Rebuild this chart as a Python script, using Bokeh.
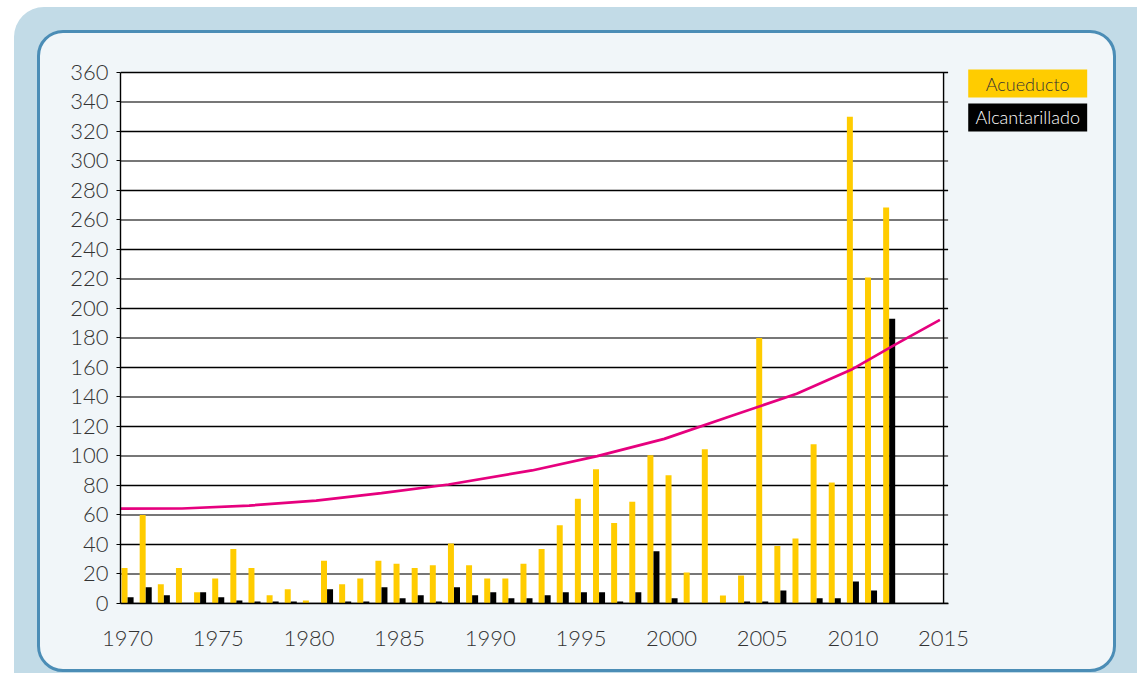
from bokeh.plotting import figure
from bokeh.models import FixedTicker, ColumnDataSource
from bokeh.layouts import column
from bokeh.transform import dodge
from bokeh.core.properties import value
from bokeh.embed import file_html
from bokeh.resources import INLINE

# ---- data ----
years = list(range(1970, 2013))
acueducto = [24, 60, 13, 24, 7.7, 17, 37, 24, 5.6, 9.7,
             2, 29, 13, 17, 29, 27, 24, 26, 40.7, 26,
             17, 17, 27, 37, 53, 71, 91, 54.5, 69, 100.5,
             87, 21, 104.6, 5.4, 19, 180, 39, 44, 108, 82,
             330, 221, 268.5]
alcantarillado = [4.3, 11, 5.6, 0, 7.7, 4.3, 2, 1.4, 1.4, 1.4,
                  0, 9.7, 1.4, 1.4, 11, 3.6, 5.6, 1.4, 11, 5.6,
                  7.7, 3.6, 3.6, 5.6, 7.7, 7.7, 7.7, 1.4, 7.7, 35.5,
                  3.6, 0, 0, 0, 1.4, 1.4, 8.8, 0, 3.6, 3.6,
                  14.9, 8.8, 193]
trend_years = [1969.6, 1973.0, 1976.7, 1980.4, 1984.0, 1987.7, 1992.3,
               1995.9, 1999.6, 2003.2, 2006.9, 2009.9, 2012.4, 2014.8]
trend_vals = [64.3, 64.4, 66.4, 69.8, 74.8, 80.7, 90.2,
              99.9, 111.6, 126.8, 142.2, 158.4, 176.0, 192.3]
x_ticks = [1970, 1975, 1980, 1985, 1990, 1995, 2000, 2005, 2010, 2015]
y_ticks = list(range(0, 361, 20))
grid_gray = list(range(20, 361, 40))
grid_black = list(range(0, 361, 40))
series_names = ["Acueducto", "Alcantarillado"]

# ---- layout constants ----
X0, X1 = 1969.61, 2015.0          # plotting area (data units)
Y0, Y1 = 0, 360
TICK_EXT = 0.25                   # right-hand outer ticks (years)
X_VIEW_END = 2023.82              # frame extends to hold the legend
Y_VIEW_END = 378.3
LEG_X = 2019.64
LEG_Y = [352.5, 329.5]
LEG_W, LEG_H = 6.56, 19.0

YELLOW = "#ffcc00"
BLACK = "#000000"
PINK = "#e6007e"
FONT = "Lato Light"

src = ColumnDataSource(dict(year=years, a=acueducto, b=alcantarillado))

p = figure(width=1079, height=642, x_range=(X0, X_VIEW_END),
           y_range=(Y0, Y_VIEW_END),
           output_backend="svg", toolbar_location=None,
           min_border_left=80, min_border_right=16, min_border_top=12,
           min_border_bottom=72,
           background_fill_color=None, border_fill_color=None,
           outline_line_color=None)
p.styles = {"border": "3px solid #4b8db6", "border-radius": "26px",
            "background-color": "#f1f6f9", "overflow": "hidden"}
p.margin = (23, 0, 0, 23)
p.xgrid.visible = False
p.ygrid.visible = False

# white plotting area
p.quad(left=[X0], right=[X1], bottom=[Y0], top=[Y1],
       fill_color="white", line_color=None)
# horizontal grid lines (alternating grey / black as in the original)
p.segment(x0=[X0] * len(grid_gray), x1=[X1 + TICK_EXT] * len(grid_gray),
          y0=grid_gray, y1=grid_gray, line_color="#777777", line_width=2)
p.segment(x0=[X0] * len(grid_black), x1=[X1 + TICK_EXT] * len(grid_black),
          y0=grid_black, y1=grid_black, line_color="#000000", line_width=1.4)
# right border of plotting area
p.segment(x0=[X1], x1=[X1], y0=[Y0], y1=[Y1], line_color="black",
          line_width=1.4)

p.vbar(x=dodge("year", -0.167), top="a", width=0.33, source=src,
       fill_color=YELLOW, line_color=None)
p.vbar(x=dodge("year", 0.167), top="b", width=0.33, source=src,
       fill_color=BLACK, line_color=None)
p.line(trend_years, trend_vals, line_color=PINK, line_width=2.7)

# legend
p.rect(x=[LEG_X, LEG_X], y=LEG_Y, width=LEG_W, height=LEG_H,
       fill_color=[YELLOW, BLACK], line_color=None)
p.text(x=[LEG_X, LEG_X], y=LEG_Y, text=series_names,
       text_color=["#333333", "#ffffff"], text_align="center",
       text_baseline="middle", text_font=value(FONT),
       text_font_size="18px")

xa = p.xaxis[0]
xa.ticker = FixedTicker(ticks=x_ticks)
xa.bounds = (X0, X1 + TICK_EXT)
xa.major_tick_line_color = None
xa.minor_tick_line_color = None
xa.axis_line_color = "black"
xa.axis_line_width = 1.4
xa.major_label_standoff = 21
xa.major_label_text_font = FONT
xa.major_label_text_font_size = "22px"
xa.major_label_text_color = "#333333"

ya = p.yaxis[0]
ya.ticker = FixedTicker(ticks=y_ticks)
ya.bounds = (Y0, Y1)
ya.minor_tick_line_color = None
ya.major_tick_out = 4
ya.major_tick_in = 0
ya.axis_line_width = 1.4
ya.major_label_standoff = 8
ya.major_label_text_font = FONT
ya.major_label_text_font_size = "22px"
ya.major_label_text_color = "#333333"

root = column(p, width=1123, height=666, margin=(7, 0, 0, 14),
              styles={"background-color": "#c2dbe7",
                      "border-top-left-radius": "30px"})

open("out.html", "w").write(file_html(root, INLINE))
